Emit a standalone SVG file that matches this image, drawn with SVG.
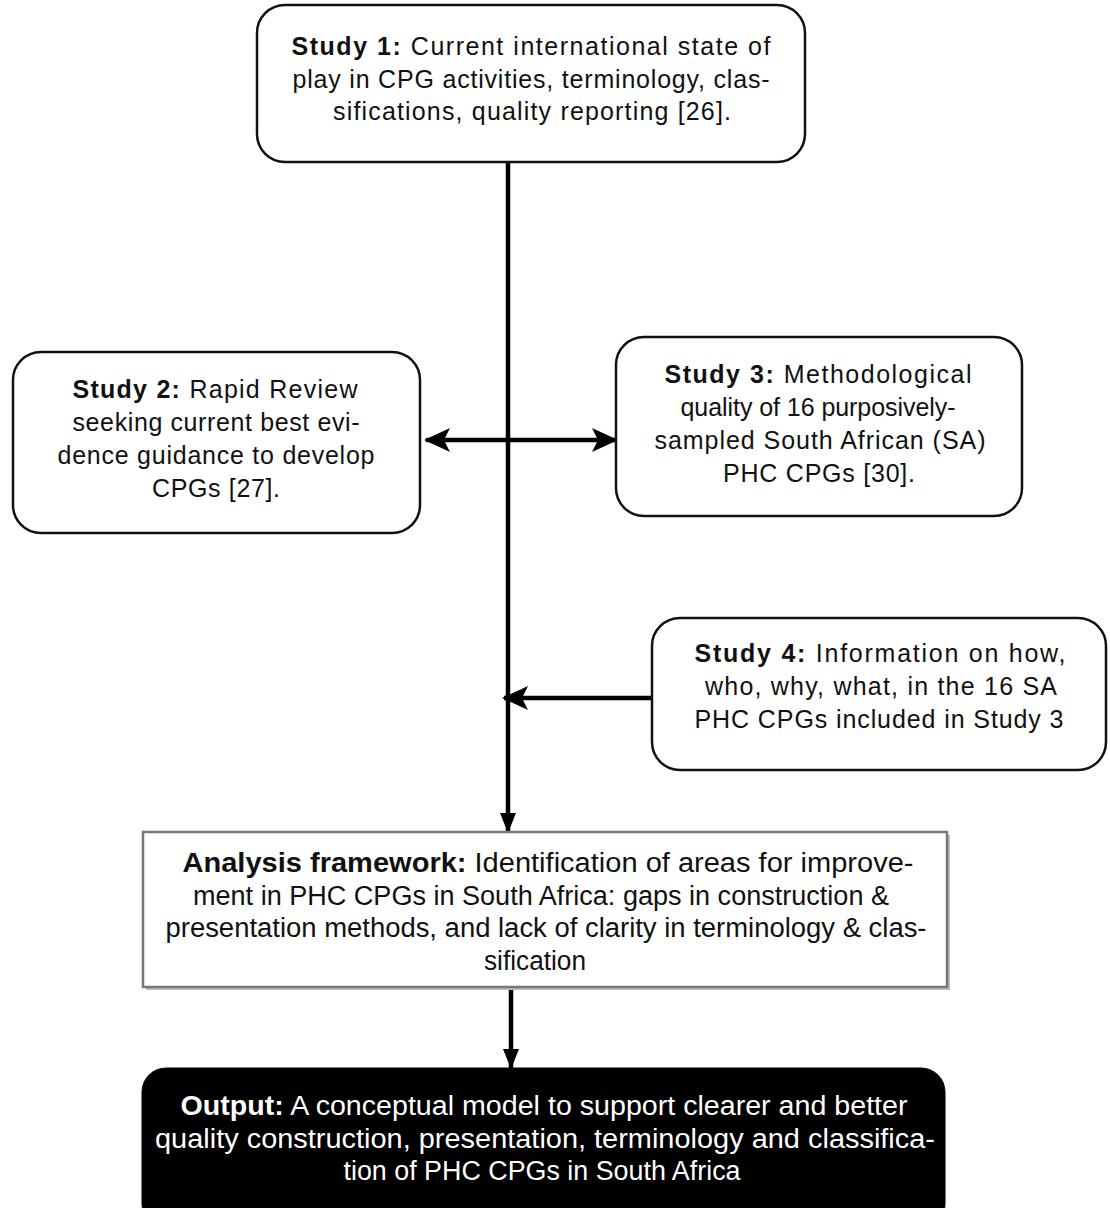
<svg xmlns="http://www.w3.org/2000/svg" width="1110" height="1208" viewBox="0 0 1110 1208">
<style>
text{font-family:"Liberation Sans",Arial,sans-serif;font-size:25px;fill:#111;text-anchor:middle}
.n{font-size:27px}
.b{font-weight:bold}
.box{fill:#fff;stroke:#111;stroke-width:2.5}
.sq{fill:#fff;stroke:#777;stroke-width:2.5}
.out{fill:#000;stroke:#000}
.w{fill:#fff}
.ln{stroke:#000;stroke-width:4.5;fill:none}
</style>
<defs>
<marker id="barb" viewBox="0 0 26 26" refX="24" refY="13" markerWidth="26" markerHeight="26" markerUnits="userSpaceOnUse" orient="auto-start-reverse">
<path d="M0,1 L26,13 L0,25 L6,13 Z" fill="#000"/>
</marker>
<marker id="tri" viewBox="0 0 20 20" refX="19" refY="10" markerWidth="20" markerHeight="20" markerUnits="userSpaceOnUse" orient="auto">
<path d="M0,2 L20,10 L0,18 Z" fill="#000"/>
</marker>
</defs>
<rect width="1110" height="1208" fill="#fff"/>
<g id="connectors">
<line class="ln" x1="508" y1="162" x2="508" y2="832" marker-end="url(#tri)"/>
<line class="ln" x1="426" y1="440" x2="616" y2="440" marker-start="url(#barb)" marker-end="url(#barb)"/>
<line class="ln" x1="652" y1="698" x2="504" y2="698" marker-end="url(#barb)"/>
<line class="ln" x1="511" y1="987" x2="511" y2="1068" marker-end="url(#tri)"/>
</g>
<g id="study1">
<rect class="box" x="257" y="5" width="548" height="157" rx="28"/>
<text x="531" y="55" textLength="479" lengthAdjust="spacing"><tspan class="b">Study 1:</tspan> Current international state of</text>
<text x="531" y="88" textLength="477" lengthAdjust="spacing">play in CPG activities, terminology, clas-</text>
<text x="532" y="120" textLength="398" lengthAdjust="spacing">sifications, quality reporting [26].</text>
</g>
<g id="study2">
<rect class="box" x="13" y="352" width="407" height="181" rx="28"/>
<text x="215" y="398" textLength="285" lengthAdjust="spacing"><tspan class="b">Study 2:</tspan> Rapid Review</text>
<text x="216" y="431" textLength="287" lengthAdjust="spacing">seeking current best evi-</text>
<text x="216" y="464" textLength="317" lengthAdjust="spacing">dence guidance to develop</text>
<text x="216" y="497" textLength="128" lengthAdjust="spacing">CPGs [27].</text>
</g>
<g id="study3">
<rect class="box" x="616" y="337" width="406" height="179" rx="28"/>
<text x="818" y="383" textLength="307" lengthAdjust="spacing"><tspan class="b">Study 3:</tspan> Methodological</text>
<text x="818" y="416" textLength="275" lengthAdjust="spacing">quality of 16 purposively-</text>
<text x="820" y="449" textLength="331" lengthAdjust="spacing">sampled South African (SA)</text>
<text x="819" y="482" textLength="192" lengthAdjust="spacing">PHC CPGs [30].</text>
</g>
<g id="study4">
<rect class="box" x="652" y="618" width="454" height="152" rx="28"/>
<text x="880" y="662" textLength="371" lengthAdjust="spacing"><tspan class="b">Study 4:</tspan> Information on how,</text>
<text x="881" y="695" textLength="352" lengthAdjust="spacing">who, why, what, in the 16 SA</text>
<text x="879" y="728" textLength="369" lengthAdjust="spacing">PHC CPGs included in Study 3</text>
</g>
<g id="analysis">
<rect x="146" y="835" width="804" height="155" fill="#bbb"/>
<rect class="sq" x="143" y="832" width="804" height="155"/>
<text class="n" x="548" y="872" textLength="731" lengthAdjust="spacingAndGlyphs"><tspan class="b">Analysis framework:</tspan> Identification of areas for improve-</text>
<text class="n" x="541" y="905" textLength="696" lengthAdjust="spacingAndGlyphs">ment in PHC CPGs in South Africa: gaps in construction &amp;</text>
<text class="n" x="546" y="937" textLength="761" lengthAdjust="spacingAndGlyphs">presentation methods, and lack of clarity in terminology &amp; clas-</text>
<text class="n" x="535" y="970" textLength="102" lengthAdjust="spacingAndGlyphs">sification</text>
</g>
<g id="output">
<rect class="out" x="142" y="1068" width="803" height="160" rx="24"/>
<text class="n w" x="544" y="1115" textLength="727" lengthAdjust="spacingAndGlyphs"><tspan class="b">Output:</tspan> A conceptual model to support clearer and better</text>
<text class="n w" x="545" y="1148" textLength="780" lengthAdjust="spacingAndGlyphs">quality construction, presentation, terminology and classifica-</text>
<text class="n w" x="542" y="1180" textLength="397" lengthAdjust="spacingAndGlyphs">tion of PHC CPGs in South Africa</text>
</g>
</svg>
